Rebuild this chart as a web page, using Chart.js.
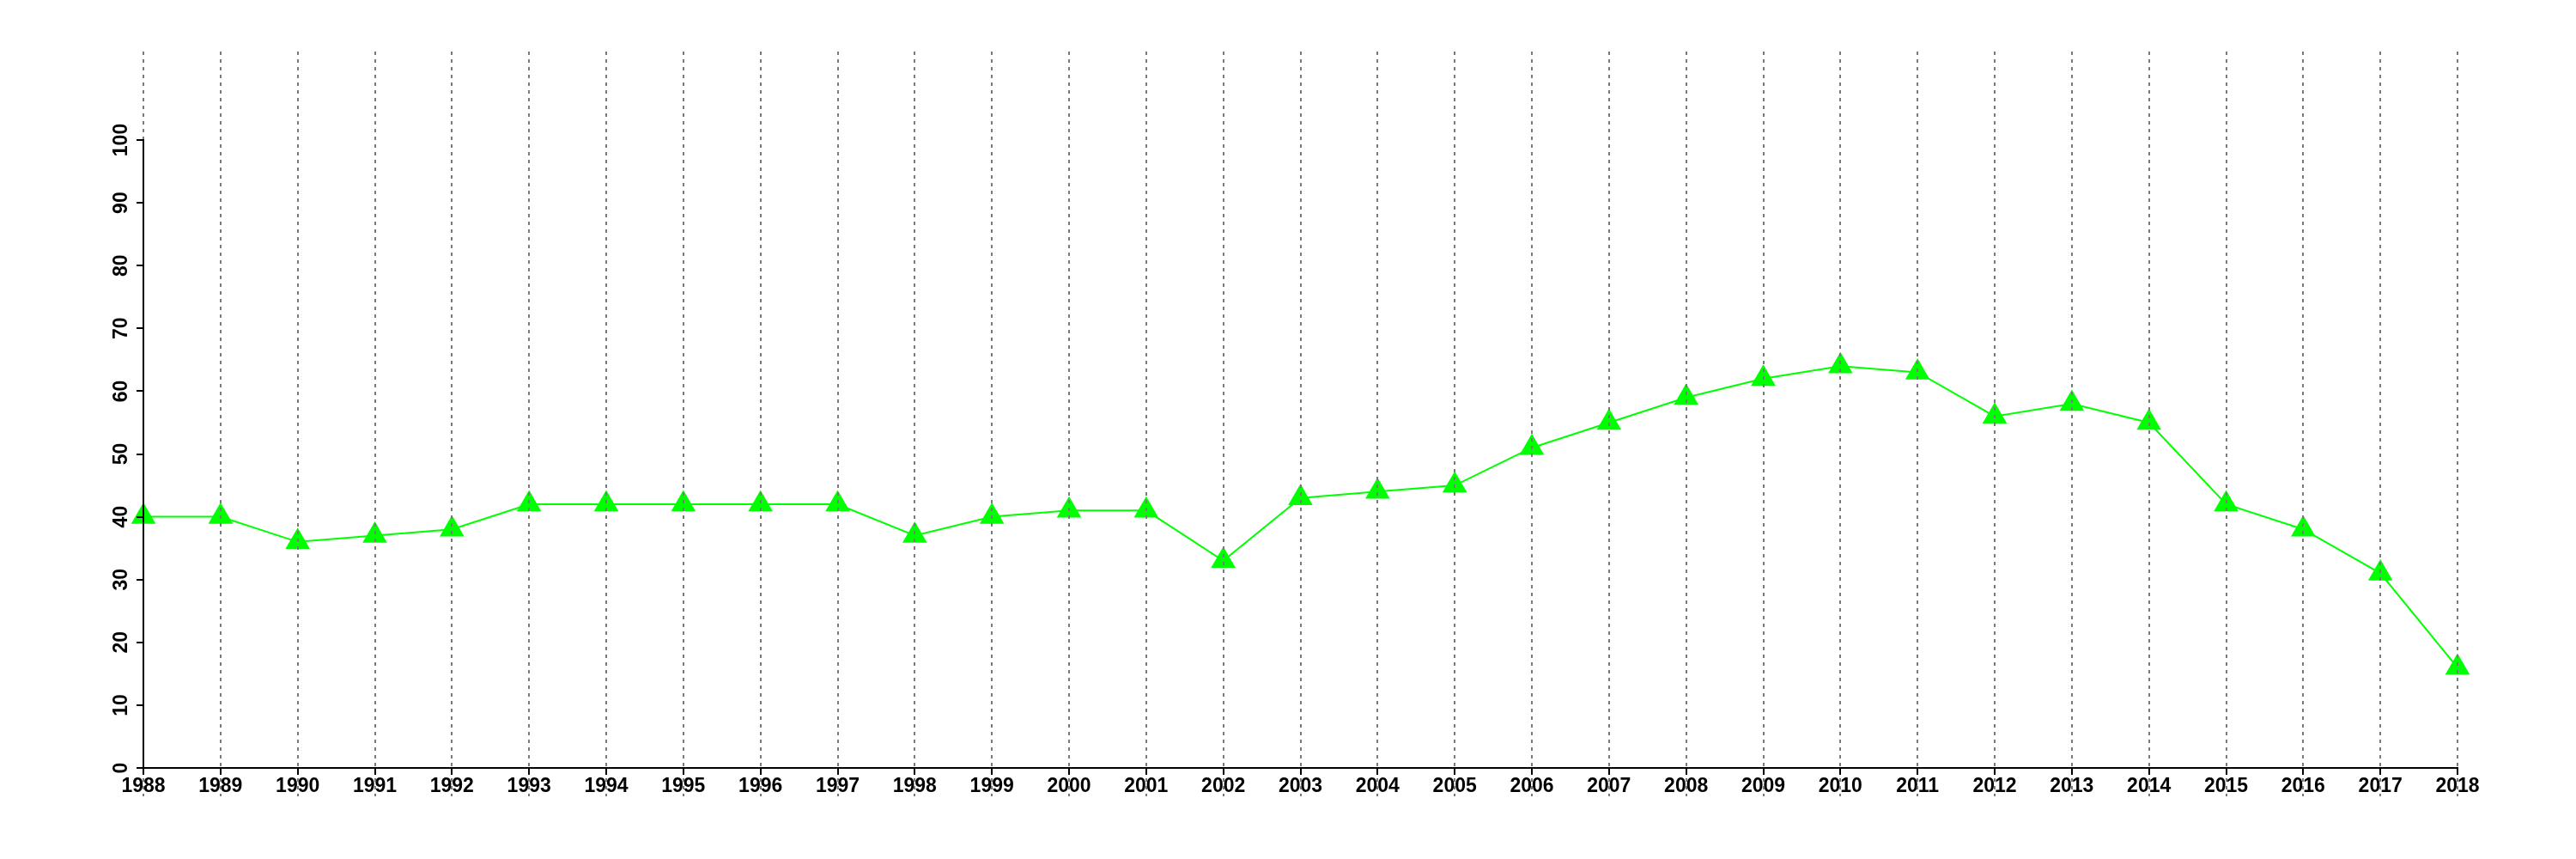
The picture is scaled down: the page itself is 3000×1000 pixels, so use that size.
<!DOCTYPE html>
<html>
<head>
<meta charset="utf-8">
<script src="https://cdn.jsdelivr.net/npm/chart.js@4/dist/chart.umd.min.js"></script>
<style>
  html, body { margin: 0; padding: 0; background: #fff; }
  #wrap { width: 3000px; height: 1000px; position: relative; }
</style>
</head>
<body>
<div id="wrap"><canvas id="chart"></canvas></div>
<script>
// Years along the x axis and the single green series.
const YEARS = [
  '1988', '1989', '1990', '1991', '1992', '1993', '1994', '1995', '1996', '1997',
  '1998', '1999', '2000', '2001', '2002', '2003', '2004', '2005', '2006', '2007',
  '2008', '2009', '2010', '2011', '2012', '2013', '2014', '2015', '2016', '2017', '2018',
];
const VALUES = [
  40, 40, 36, 37, 38, 42, 42, 42, 42, 42,
  37, 40, 41, 41, 33, 43, 44, 45, 51, 55,
  59, 62, 64, 63, 56, 58, 55, 42, 38, 31, 16,
];
const Y_MIN = 0;
const Y_MAX = 100;
const Y_STEP = 10;

const GREEN = '#00ff00';
const FONT = { family: "'Liberation Sans', Arial, sans-serif", size: 23, weight: 'bold' };

// Dotted vertical guides at every year, running past the plot top and below the axis.
// Drawn after the line/markers (the reference shows the dots over the triangles).
const yearGuides = {
  id: 'yearGuides',
  afterDatasetsDraw(chart) {
    const { ctx, chartArea, scales: { x } } = chart;
    ctx.save();
    ctx.strokeStyle = '#7a7a7a';
    ctx.lineWidth = 2;
    ctx.setLineDash([4, 5]);
    x.ticks.forEach((t, i) => {
      const px = Math.round(x.getPixelForTick(i));
      ctx.beginPath();
      ctx.moveTo(px, chartArea.top - 103);
      ctx.lineTo(px, chartArea.bottom + 33);
      ctx.stroke();
    });
    ctx.restore();
  },
};

// Axes on top of everything (z > 0 draws after the datasets).
const axisLine = { display: true, color: '#000', width: 2, z: 1 };
const tickMarks = { z: 1, drawOnChartArea: false, drawTicks: true, tickLength: 8, color: '#000', lineWidth: 2 };

new Chart(document.getElementById('chart'), {
  type: 'line',
  data: {
    labels: YEARS,
    datasets: [{
      data: VALUES,
      borderColor: GREEN,
      borderWidth: 2,
      backgroundColor: GREEN,
      pointStyle: 'triangle',
      pointRadius: 16.5,
      pointBorderWidth: 0,
      pointBackgroundColor: GREEN,
      tension: 0,
      fill: false,
    }],
  },
  options: {
    responsive: true,
    maintainAspectRatio: false,
    animation: false,
    layout: { padding: { left: 87, right: 138, top: 163, bottom: 46 } },
    plugins: { legend: { display: false }, tooltip: { enabled: false } },
    scales: {
      x: {
        z: 1,
        offset: false,
        afterFit: (s) => { s.height = 60; },
        border: axisLine,
        grid: tickMarks,
        ticks: { color: '#000', font: FONT, padding: 0, maxRotation: 0, autoSkip: false },
      },
      y: {
        z: 1,
        min: Y_MIN,
        max: Y_MAX,
        afterFit: (s) => { s.width = 80; },
        border: axisLine,
        grid: tickMarks,
        ticks: {
          stepSize: Y_STEP,
          color: '#000',
          font: FONT,
          padding: -2,
          minRotation: 90,
          maxRotation: 90,
          crossAlign: 'center',
        },
      },
    },
  },
  plugins: [yearGuides],
});
</script>
</body>
</html>
